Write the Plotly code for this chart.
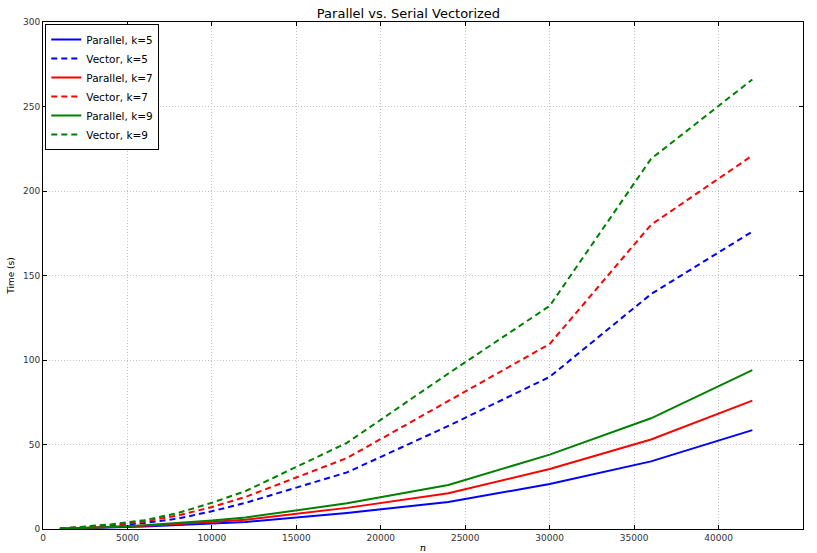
import plotly.graph_objects as go

n = [1000, 2000, 4000, 6000, 8000, 10000, 12000, 18000, 24000, 30000, 36000, 42000]

par_k5 = [0.1, 0.3, 0.8, 1.5, 2.4, 3.2, 4.2, 9.5, 16.0, 26.6, 40.0, 58.5]
vec_k5 = [0.2, 0.7, 1.9, 3.6, 6.2, 10.5, 15.5, 33.5, 61.0, 90.0, 139.0, 176.0]
par_k7 = [0.1, 0.4, 1.0, 1.9, 3.0, 4.2, 5.5, 12.5, 21.2, 35.5, 53.0, 76.0]
vec_k7 = [0.3, 0.9, 2.3, 4.4, 8.0, 13.0, 19.0, 42.0, 76.0, 109.5, 180.0, 221.0]
par_k9 = [0.1, 0.4, 1.2, 2.2, 3.5, 5.0, 6.8, 15.2, 26.0, 44.0, 65.5, 94.0]
vec_k9 = [0.3, 1.0, 2.7, 5.2, 9.5, 15.5, 22.5, 51.0, 92.0, 132.0, 219.0, 266.0]

series = [
    ("Parallel, k=5", par_k5, "#0000ff", "solid"),
    ("Vector, k=5", vec_k5, "#0000ff", "6px,4px"),
    ("Parallel, k=7", par_k7, "#ff0000", "solid"),
    ("Vector, k=7", vec_k7, "#ff0000", "6px,4px"),
    ("Parallel, k=9", par_k9, "#008000", "solid"),
    ("Vector, k=9", vec_k9, "#008000", "6px,4px"),
]

fig = go.Figure()
for name, vals, color, dash in series:
    fig.add_trace(go.Scatter(x=n, y=vals, mode="lines", name=name,
                             line=dict(color=color, width=2, dash=dash)))

axis_common = dict(
    showline=True, linecolor="black", linewidth=1, mirror="ticks",
    ticks="inside", ticklen=4, tickcolor="black",
    showgrid=True, gridcolor="#c4c4c4", griddash="1px,2px", gridwidth=1,
    zeroline=False, automargin=False,
    tickfont=dict(family="DejaVu Sans", size=9, color="#333333"),
)

fig.update_layout(
    width=817, height=553,
    margin=dict(l=43, r=14, t=22, b=24),
    paper_bgcolor="white", plot_bgcolor="white",
    title=dict(text="Parallel vs. Serial Vectorized", x=0.5, xanchor="center",
               y=1 - 13 / 553, yanchor="middle",
               font=dict(family="DejaVu Sans", size=13, color="black")),
    font=dict(family="DejaVu Sans", color="black"),
    xaxis=dict(range=[0, 45000], dtick=5000, tickformat="d",
               title=dict(text="<i>n</i>", standoff=2,
                          font=dict(family="DejaVu Serif", size=10)),
               **axis_common),
    yaxis=dict(range=[0, 300], dtick=50,
               title=dict(text="Time (s)", standoff=6,
                          font=dict(family="DejaVu Sans", size=9)),
               **axis_common),
    legend=dict(x=0.003, y=0.996, xanchor="left", yanchor="top",
                bordercolor="black", borderwidth=1, bgcolor="white",
                font=dict(family="DejaVu Sans", size=10.5),
                tracegroupgap=0, itemwidth=30),
    showlegend=True,
)

fig.write_html("out.html",
               config={"displayModeBar": False},
               post_script="document.body.style.margin='0px';document.body.style.overflow='hidden';")
